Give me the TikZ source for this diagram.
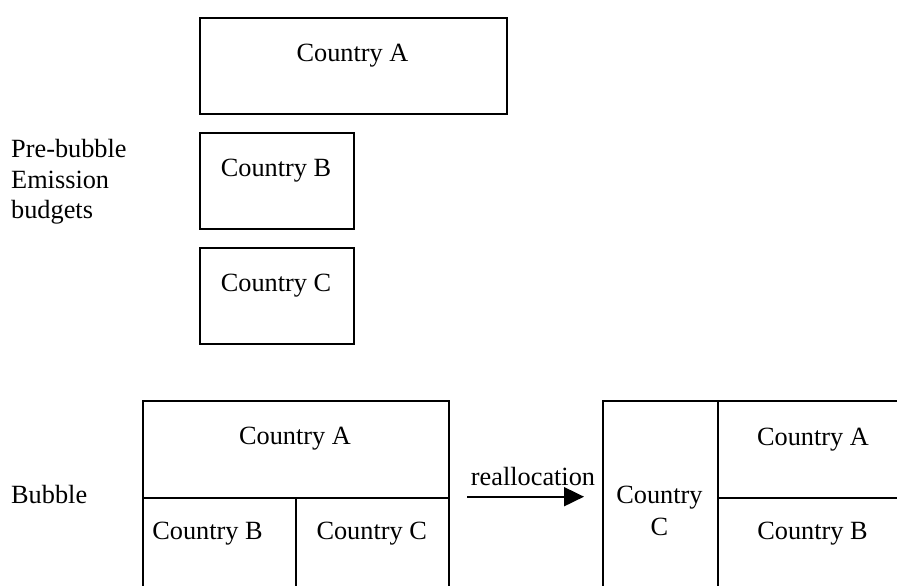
\documentclass[tikz,border=0pt]{standalone}
\usepackage{fontspec}
\setmainfont{Liberation Serif}
\usetikzlibrary{arrows.meta}
\begin{document}
\begin{tikzpicture}[x=1pt,y=-1pt,
  box/.style={draw, line width=1.9pt, rectangle, inner sep=0pt, anchor=north west},
  txt/.style={font=\fontsize{26.3}{31}\selectfont, inner sep=0pt, anchor=base},
  lbl/.style={font=\fontsize{26.3}{31}\selectfont, inner sep=0pt, anchor=base west, align=left},
  arr/.style={line width=1.9pt, -{Triangle[length=20pt,width=19pt]}}]
\useasboundingbox (0,0) rectangle (897,586);
\clip (0,0) rectangle (897,586);
% pre-bubble budgets
\node[box, minimum width=307pt, minimum height=96pt] (boxA) at (199,16.7) {};
\node[box, minimum width=154pt, minimum height=96pt] (boxB) at (199,131.7) {};
\node[box, minimum width=154pt, minimum height=96pt] (boxC) at (199,246.7) {};
\node[txt] (tA) at (352.5,62) {Country A};
\node[txt] (tB) at (276,176) {Country B};
\node[txt] (tC) at (276,291.7) {Country C};
\node[lbl] (pre1) at (11,157.3) {Pre-bubble};
\node[lbl] (pre2) at (11,188.3) {Emission};
\node[lbl] (pre3) at (11,218.5) {budgets};
% bubble
\node[lbl] (bub) at (11,503.3) {Bubble};
\node[box, minimum width=306.3pt, minimum height=96.7pt] (bA) at (141.7,400) {};
\node[box, minimum width=153.3pt, minimum height=120pt] (bB) at (141.7,496.7) {};
\node[box, minimum width=153pt, minimum height=120pt] (bC) at (295,496.7) {};
\node[txt] (tbA) at (295,444) {Country A};
\node[txt] (tbB) at (207.5,539) {Country B};
\node[txt] (tbC) at (371.7,539) {Country C};
% reallocation
\coordinate (s) at (467,496.7);
\coordinate (e) at (584,496.7);
\draw[arr] (s) -- (e);
\node[txt] (re) at (533,485) {reallocation};
% after reallocation
\node[box, minimum width=115pt, minimum height=220pt] (rC) at (602,400) {};
\node[box, minimum width=200pt, minimum height=96.7pt] (rA) at (717,400) {};
\node[box, minimum width=200pt, minimum height=120pt] (rB) at (717,496.7) {};
\node[txt] (trC1) at (659.5,503) {Country};
\node[txt] (trC2) at (659.5,535.7) {C};
\node[txt] (trA) at (813,445) {Country A};
\node[txt] (trB) at (812.5,539) {Country B};
\end{tikzpicture}
\end{document}
